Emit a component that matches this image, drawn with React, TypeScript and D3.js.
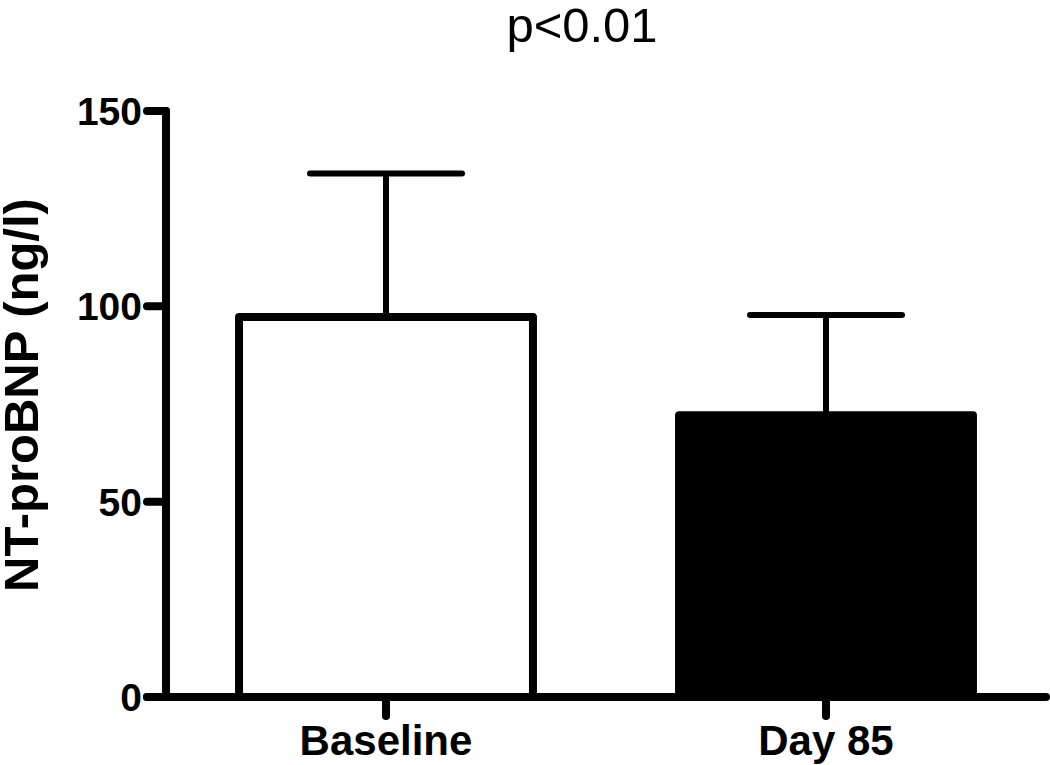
import React from "react";
import * as d3 from "d3";

const categories = ["Baseline", "Day 85"];
const means = [97.3, 72.1];
const errorTops = [134.0, 97.8];
const yTicks = [0, 50, 100, 150];
const fills = ["#ffffff", "#000000"];

const W = 1050;
const H = 765;

export default function App() {
  const y = d3.scaleLinear().domain([0, 150]).range([697, 111]);
  const x = d3
    .scaleBand<string>()
    .domain(categories)
    .range([166, 1046])
    .paddingInner(0.332)
    .paddingOuter(0.166);
  const bw = x.bandwidth();
  const capW = 152;
  const font = "'Liberation Sans', Arial, Helvetica, sans-serif";

  const yAxisPath = d3.path();
  yAxisPath.moveTo(166, y(150));
  yAxisPath.lineTo(166, y(0));

  return (
    <svg
      width={W}
      height={H}
      style={{ position: "fixed", left: 0, top: 0, background: "#fff" }}
    >
      <rect x={0} y={0} width={W} height={H} fill="#fff" />
      {categories.map((c, i) => {
        const cx = (x(c) as number) + bw / 2;
        return (
          <g key={c}>
            <line
              x1={cx}
              x2={cx}
              y1={y(means[i])}
              y2={y(errorTops[i])}
              stroke="#000"
              strokeWidth={6}
            />
            <line
              x1={cx - capW / 2}
              x2={cx + capW / 2}
              y1={y(errorTops[i])}
              y2={y(errorTops[i])}
              stroke="#000"
              strokeWidth={6}
              strokeLinecap="round"
            />
            <rect
              x={x(c)}
              y={y(means[i])}
              width={bw}
              height={y(0) - y(means[i])}
              fill={fills[i]}
              stroke="#000"
              strokeWidth={8}
              strokeLinejoin="round"
            />
          </g>
        );
      })}
      {/* y axis */}
      <path
        d={yAxisPath.toString()}
        stroke="#000"
        strokeWidth={8}
        fill="none"
        strokeLinecap="round"
      />
      {yTicks.map((t) => (
        <g key={t}>
          <line
            x1={147}
            x2={166}
            y1={y(t)}
            y2={y(t)}
            stroke="#000"
            strokeWidth={8}
            strokeLinecap="round"
          />
          <text
            x={142}
            y={y(t)}
            dy="0.36em"
            textAnchor="end"
            fontFamily={font}
            fontWeight="bold"
            fontSize={39}
            fill="#000"
          >
            {t}
          </text>
        </g>
      ))}
      {/* x axis */}
      <line
        x1={147}
        x2={1046}
        y1={y(0)}
        y2={y(0)}
        stroke="#000"
        strokeWidth={8}
        strokeLinecap="round"
      />
      {categories.map((c) => {
        const cx = (x(c) as number) + bw / 2;
        return (
          <g key={c + "-tick"}>
            <line
              x1={cx}
              x2={cx}
              y1={y(0)}
              y2={716}
              stroke="#000"
              strokeWidth={8}
              strokeLinecap="round"
            />
            <text
              x={cx}
              y={755}
              textAnchor="middle"
              fontFamily={font}
              fontWeight="bold"
              fontSize={42}
              fill="#000"
            >
              {c}
            </text>
          </g>
        );
      })}
      {/* y label */}
      <text
        transform={`translate(38, 395) rotate(-90)`}
        textAnchor="middle"
        fontFamily={font}
        fontWeight="bold"
        fontSize={49}
        fill="#000"
      >
        NT-proBNP (ng/l)
      </text>
      {/* title */}
      <text
        x={582}
        y={42}
        textAnchor="middle"
        fontFamily={font}
        fontSize={49}
        fill="#000"
      >
        p&lt;0.01
      </text>
    </svg>
  );
}
